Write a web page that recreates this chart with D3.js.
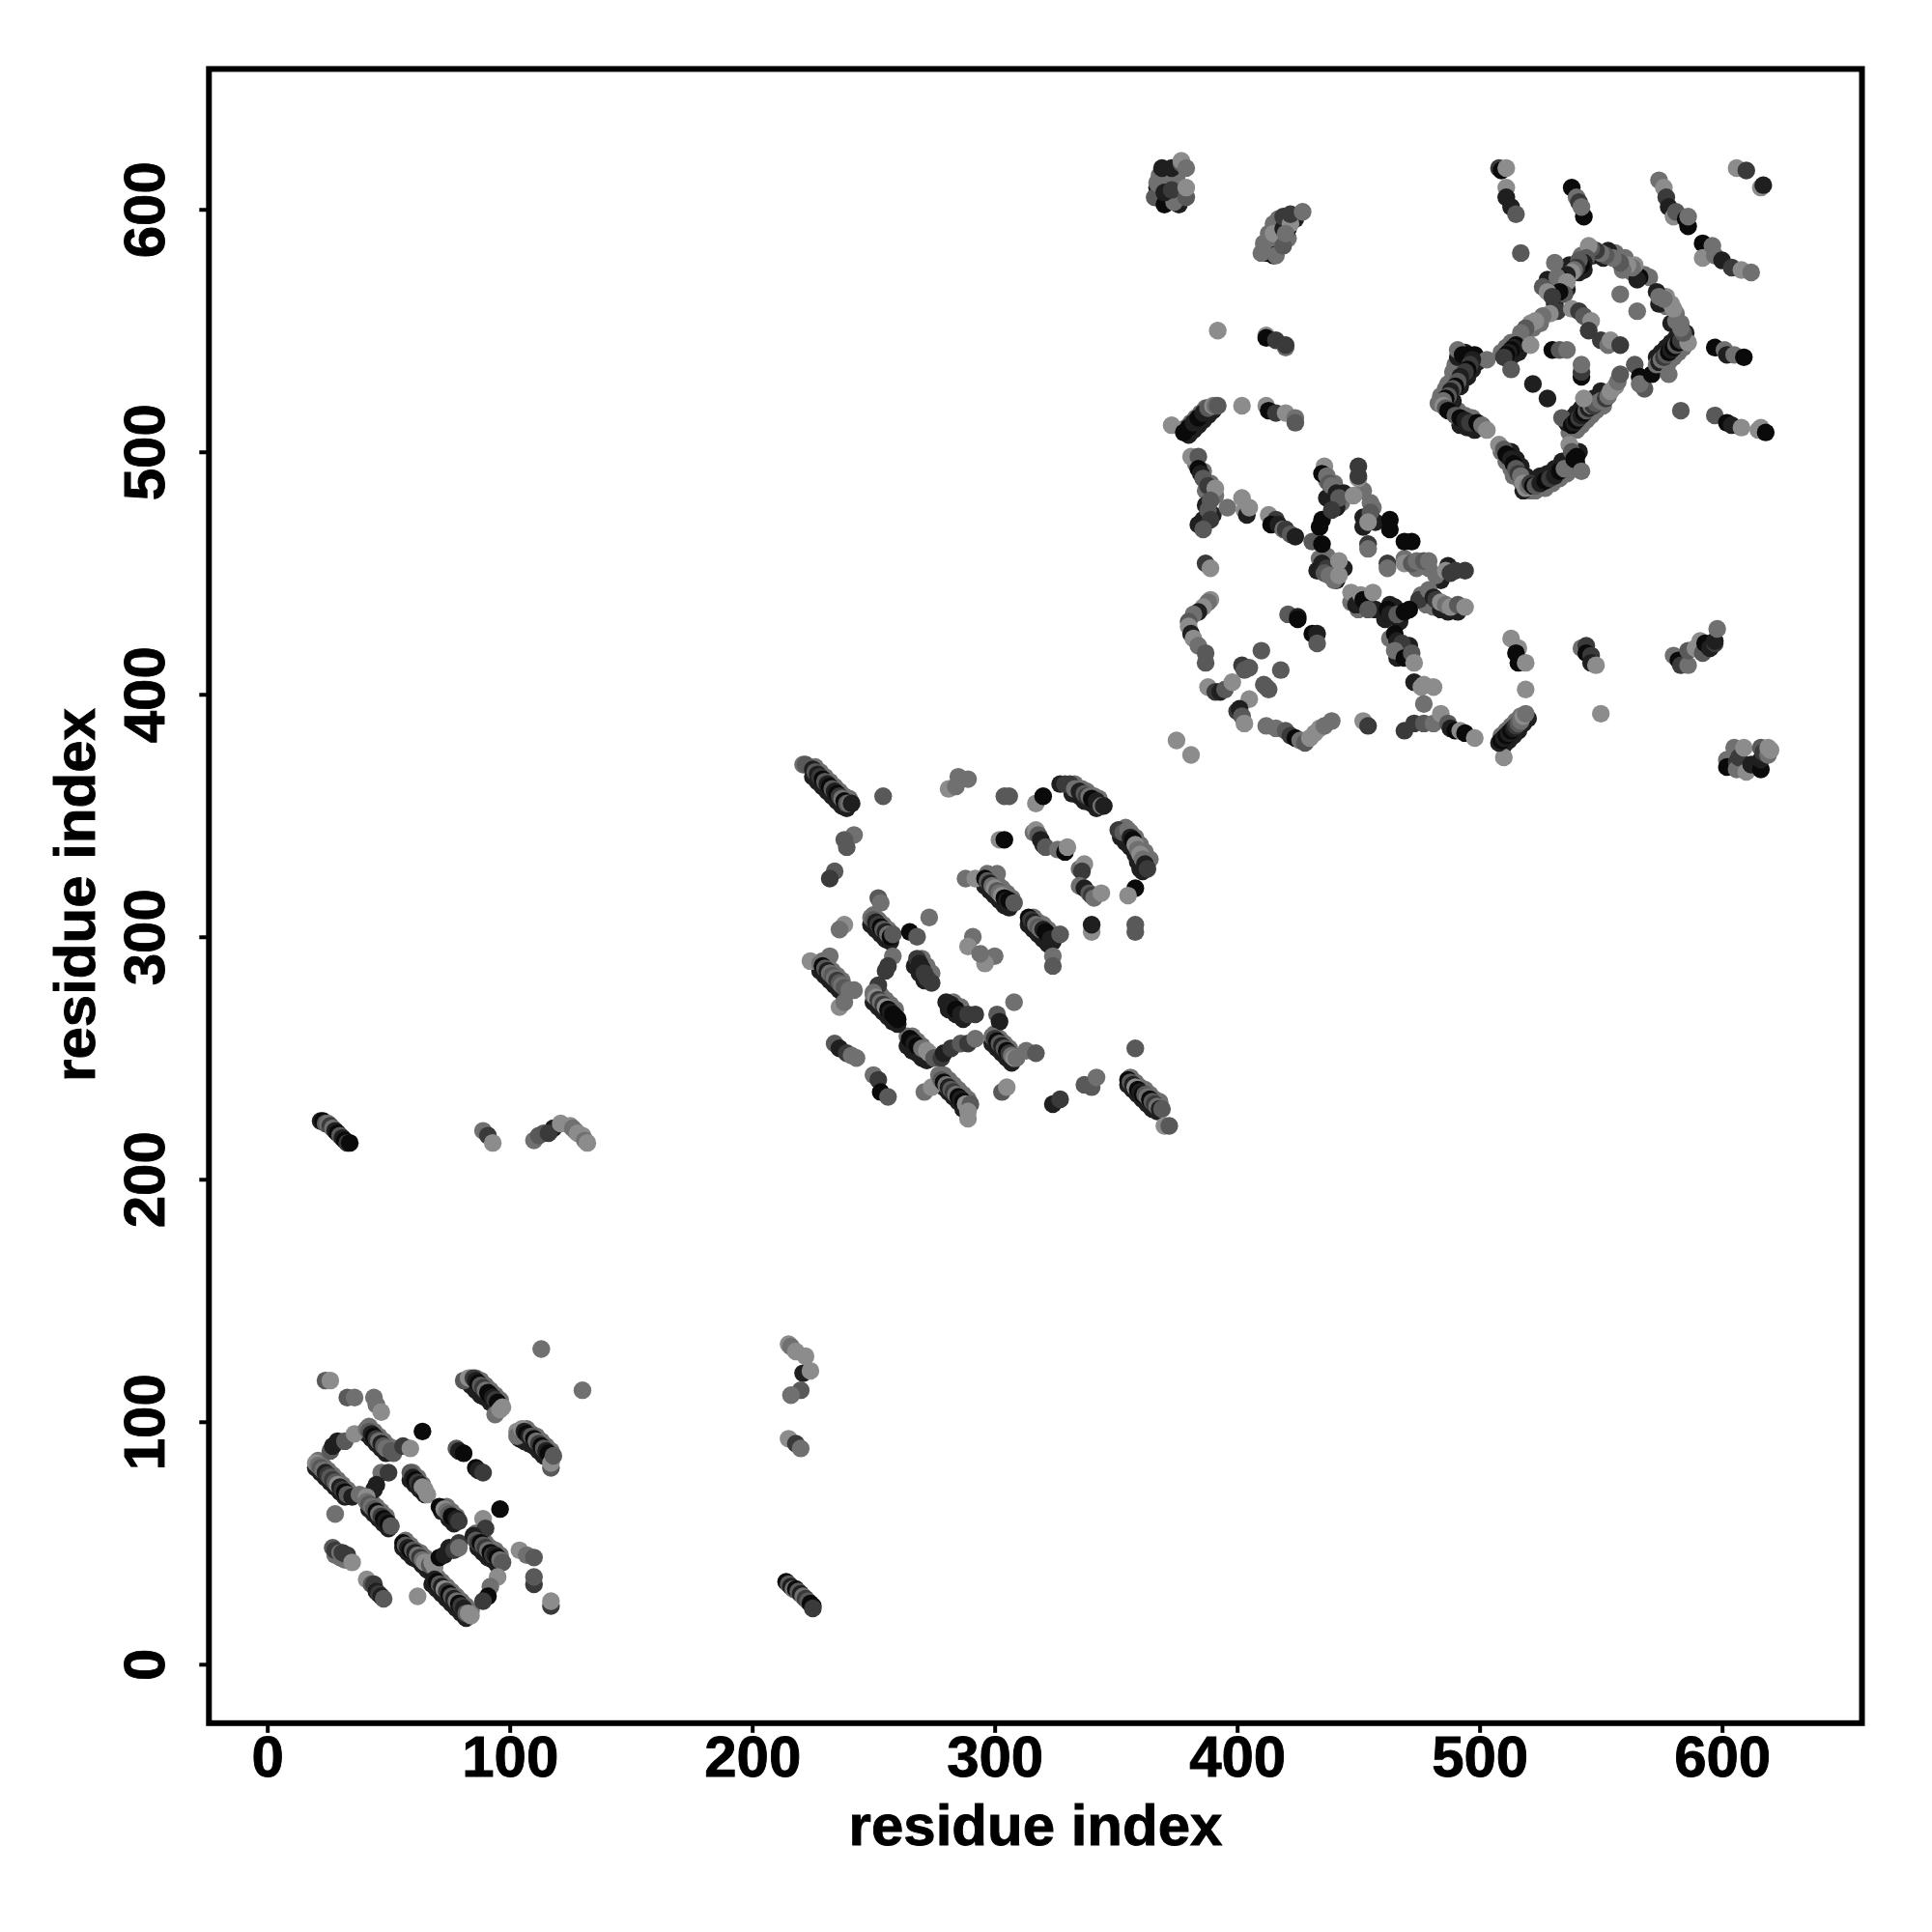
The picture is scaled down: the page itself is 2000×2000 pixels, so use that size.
<!DOCTYPE html>
<html><head><meta charset="utf-8"><title>Residue contact map</title>
<script src="https://cdn.jsdelivr.net/npm/d3@7"></script>
<style>html,body{margin:0;padding:0;background:#fff}svg{display:block}</style></head>
<body><svg id="c" width="2000" height="2000"></svg>
<script>
const xTicks=[0,100,200,300,400,500,600];
const yTicks=[0,100,200,300,400,500,600];
const xTitle="residue index", yTitle="residue index";
const shades=["#0a0a0a","#1f1f1f","#3a3a3a","#595959","#707070","#8c8c8c"];
// neighbouring contacts on the flanks of the strands: residue i, residue j
const flankMid=[
[21,84],[23,82],[25,80],[27,78],[29,76],[31,74],[33,72],[35,70],[42,98],[44,96],[46,94],[48,92],[50,90],[52,89],[41,69],[43,67],[45,65],[47,63],[49,61],[60,79],[62,77],[64,74],[74,65],[76,63],[78,61],[84,118],[86,118],[88,117],[90,115],[92,113],[94,111],[96,109],[105,96],[107,97],[109,95],[111,94],[113,92],[115,90],[117,88],[57,51],[59,49],[61,47],[63,46],[65,44],[86,54],[88,52],[90,50],[92,48],[94,47],[96,45],[70,36],[72,34],[74,32],[76,30],[78,28],[80,26],[82,24],[84,22],[28,45],[30,44],[32,43],
[226,370],[228,368],[230,366],[232,364],[234,362],[236,360],[238,358],[240,357],[297,326],[299,324],[301,322],[303,320],[305,318],[307,316],[316,308],[318,306],[320,305],[322,303],[324,301],[250,309],[252,307],[254,305],[256,303],[229,290],[231,288],[233,286],[235,284],[237,282],[251,278],[253,276],[255,274],[257,272],[259,270],[264,259],[266,259],[268,257],[270,255],[270,291],[272,288],[274,285],[283,273],[286,271],[300,260],[302,258],[304,256],[306,254],[279,243],[281,241],[283,239],[285,237],[287,235],[289,233],[356,242],[358,240],[360,238],[362,237],[364,235],[366,233],[368,232],[333,363],[336,361],[338,360],[341,358],[343,357],[354,345],[356,343],[358,341],[360,338],[362,335],[364,332],
[509,383],[511,385],[513,387],[515,389],[517,391],[379,510],[381,512],[383,514],[385,516],[387,518],[417,596],[420,595],[423,597],[417,588],[414,586],[421,588],[417,592],[413,590],[383,495],[386,492],[389,487],[387,484],[391,482],[437,488],[440,487],[443,479],[452,484],[456,477],[434,456],[437,457],[469,456],[474,452],[479,452],[476,441],[478,437],[481,436],[447,438],[450,435],[453,438],[463,423],[466,418],[368,614],[375,613],[371,611],[376,606],
[489,533],[490,536],[493,537],[487,528],[486,526],[484,523],[483,520],[491,517],[494,515],[497,514],[509,500],[511,496],[513,493],[514,490],[517,488],[521,484],[523,484],[527,485],[530,487],[533,489],[536,491],[537,508],[540,509],[542,511],[544,513],[546,515],[548,517],[551,519],[574,535],[576,536],[578,537],[580,539],[582,541],[584,543],[509,541],[511,543],[513,545],[519,546],[519,549],[522,551],[525,553],[542,581],[545,582],[539,577],[568,573],[563,574],[570,572],[560,580],[556,582],[577,560],[581,557],[583,553]
];
const flankDark=[
[20,81],[22,79],[24,77],[26,75],[28,73],[30,71],[32,69],[41,95],[43,93],[45,91],[47,89],[49,87],[42,64],[44,62],[46,60],[48,58],[50,56],[59,76],[61,74],[63,72],[65,70],[72,63],[75,60],[77,58],[84,115],[86,113],[88,111],[90,110],[92,108],[104,93],[106,92],[108,91],[110,90],[112,88],[114,86],[116,85],[56,48],[58,46],[60,44],[62,43],[64,41],[66,39],[87,48],[89,46],[91,44],[93,43],[95,41],[68,33],[70,31],[72,29],[74,27],[76,25],[78,23],[80,21],[82,19],
[225,366],[227,364],[229,362],[231,360],[233,358],[235,356],[237,354],[239,353],[296,321],[298,319],[300,317],[302,315],[304,313],[306,312],[314,305],[316,303],[318,301],[320,299],[322,297],[249,305],[251,303],[253,301],[255,299],[257,298],[228,286],[230,284],[232,282],[234,280],[236,278],[238,276],[250,273],[252,271],[254,269],[256,267],[258,265],[260,264],[264,255],[266,253],[268,252],[270,250],[272,249],[267,288],[269,285],[271,282],[281,270],[284,268],[287,266],[299,256],[301,254],[303,252],[305,250],[307,248],[277,240],[279,238],[281,236],[283,234],[285,232],[287,229],[355,239],[357,237],[359,235],[361,233],[363,231],[365,229],[367,228],[332,359],[335,358],[337,356],[340,355],[342,353],[352,341],[354,339],[356,337],[358,334],[359,331],[360,328],
[510,379],[512,381],[514,383],[516,385],[518,388],[520,390],[380,507],[382,509],[384,511],[386,513],[388,515],[390,517],[387,478],[390,474],[386,472],[384,470],[441,477],[444,483],[437,481],[452,473],[457,471],[452,469],[440,451],[433,451],[441,447],[444,452],[484,447],[487,453],[484,435],[487,434],[491,434],[457,435],[461,431],[463,437],[467,430],[465,436],[470,418],[471,420],[466,415],[367,609],[372,605],[376,602],[369,604],
[493,530],[492,527],[497,534],[495,531],[499,537],[489,521],[488,524],[491,539],[494,541],[492,511],[495,510],[498,509],[513,500],[515,497],[517,494],[519,490],[518,484],[522,488],[525,490],[528,491],[531,493],[534,496],[537,497],[540,495],[541,500],[536,512],[538,514],[540,516],[542,518],[545,520],[547,522],[550,525],[573,539],[575,541],[577,543],[579,545],[581,547],[512,538],[514,540],[516,541],[517,543],[537,577],[536,575],[541,574],[543,575],[534,575],[533,568],[536,567],[530,569],[528,571],[531,561],[553,583],[551,580],[547,581],[579,553],[585,549],[574,561]
];
// each contact: residue i, residue j, shade index
const domainA=[
[113,130,4],[130,113,4],[24,117,3],[26,117,5],[33,110,3],[36,110,4],[44,110,4],[45,107,4],[47,104,5],
[20,83,5],[21,82,4],[22,81,3],[23,80,4],[24,79,1],[25,78,2],[26,77,3],[27,76,2],[28,75,3],[29,74,5],[30,73,1],[31,72,2],[32,71,0],[33,70,3],[35,69,1],
[26,88,3],[27,90,1],[29,92,1],[32,92,3],[36,95,5],
[41,97,4],[42,96,3],[43,95,1],[44,94,0],[45,93,2],[46,92,4],[47,91,1],[48,90,3],[49,89,4],[51,88,3],[52,87,3],[56,90,2],[59,89,5],
[47,79,4],[50,79,2],[45,74,1],[44,72,1],[38,70,4],[41,69,5],
[41,67,4],[42,66,3],[43,65,4],[44,64,3],[45,63,0],[46,62,4],[47,61,2],[48,60,0],[49,59,1],[50,58,0],[51,57,3],
[59,79,3],[60,77,1],[61,76,0],[62,75,2],[63,74,1],[64,73,5],[65,71,0],[66,70,5],[65,72,5],
[71,65,0],[73,64,5],[74,63,4],[75,62,3],[76,61,0],[78,60,1],[79,59,2],
[28,62,4],[64,96,0],[78,89,3],[79,88,1],[81,87,0],[86,81,0],[87,80,1],[89,79,2],[96,64,0],
[81,117,3],[83,118,5],[85,118,2],[86,117,1],[87,116,0],[88,115,3],[89,114,2],[90,113,4],[91,112,0],[92,111,0],[93,110,1],[94,109,2],[95,108,0],[94,103,4],[96,105,5],[97,106,5],
[103,96,5],[103,94,4],[105,97,5],[106,96,1],[107,95,0],[108,94,1],[109,94,3],[110,93,0],[111,92,4],[112,91,2],[113,90,0],[114,89,3],[115,88,1],[116,87,0],[117,81,3],[117,83,5],[118,86,3],
[56,50,0],[57,49,3],[58,48,1],[59,47,0],[60,47,3],[61,46,1],[62,45,4],[63,44,2],[64,43,4],[65,42,5],[67,41,3],[69,40,5],[68,42,5],
[71,44,0],[73,45,1],[75,48,1],[77,47,2],[79,50,2],[79,48,4],
[89,60,5],[90,56,2],[85,53,1],[86,51,3],[87,50,2],[88,50,0],[89,49,3],[90,48,2],[91,47,4],[92,46,0],[93,45,2],[94,45,1],[95,44,0],[96,43,4],[97,42,3],
[104,47,5],[107,45,4],[110,44,3],[110,33,2],[110,36,3],[117,24,2],[117,26,5],
[95,36,5],[92,32,4],[91,28,0],[89,26,2],
[69,35,1],[70,34,0],[71,33,3],[72,32,1],[73,31,5],[74,30,2],[75,29,0],[76,28,3],[77,27,1],[78,26,4],[79,25,0],[80,24,2],[81,23,1],[82,21,3],[83,21,5],[84,20,5],
[62,28,5],
[27,48,3],[28,47,2],[30,46,4],[31,46,2],[33,45,2],[35,42,5],[41,35,5],[43,33,3],[44,33,2],[45,30,1],[46,29,2],[47,28,1],[48,27,3]
];
const bridgeA=[
[221,120,1],[215,132,5],[216,131,4],[218,129,5],[222,127,5],[224,121,5],[220,113,3],[216,111,4],
[215,93,5],[218,91,2],[220,89,4],
[214,34,0],[215,33,3],[216,32,1],[217,31,4],[218,31,0],[219,30,3],[220,29,1],[221,28,4],[222,27,2],[223,26,3],[224,25,0],[225,24,0],[225,23,2],
[22,224,1],[23,224,0],[24,223,3],[25,223,4],[26,222,2],[27,221,4],[28,220,1],[29,219,0],[30,218,3],[31,217,1],[32,216,0],[33,215,2],[34,215,0],
[89,220,4],[91,218,2],[93,215,5],
[110,216,4],[118,221,1],[112,218,3],[114,219,3],[116,219,2],[121,223,5],[125,222,5],[126,221,4],[127,220,4],[128,219,5],[130,218,5],[131,216,4],[132,215,5]
];
const domainB=[
[221,371,4],[222,371,3],[225,369,1],[226,368,3],[227,367,1],[228,366,2],[229,365,0],[230,364,3],[231,363,1],[232,362,0],[233,361,3],[234,360,1],[235,359,0],[236,358,2],[237,357,4],[238,356,0],[239,355,3],[240,355,4],[241,355,1],
[254,358,3],[242,342,4],[238,340,3],[239,337,3],[234,327,3],[232,324,2],
[285,366,4],[289,365,4],[281,361,5],[284,362,4],
[304,358,3],[306,358,3],[317,355,5],[320,358,0],
[327,363,1],[329,363,2],[331,363,2],[333,361,4],[335,360,1],[337,359,3],[338,358,2],[339,358,4],[340,357,0],[342,356,1],[344,354,4],[345,354,1],
[351,344,2],[353,343,3],[355,344,4],[356,341,1],[357,340,0],[358,338,5],[359,336,4],[360,334,5],[361,332,4],[361,327,1],[362,330,1],[363,328,2],
[358,320,0],[355,317,5],
[302,340,5],[304,340,0],
[316,343,4],[317,344,5],[318,342,3],[319,340,1],[320,338,1],[321,337,3],[326,336,4],[329,335,0],[330,337,5],
[335,328,4],[337,330,5],[336,327,2],[335,321,4],[337,320,1],[339,318,3],[340,317,2],[341,316,4],[344,318,5],
[340,302,5],[340,305,1],[358,302,3],[358,305,3],
[288,324,4],[292,324,5],[301,326,4],[296,324,0],[297,323,3],[298,322,1],[299,321,4],[300,320,5],[301,319,3],[302,318,4],[303,317,5],[304,316,0],[305,315,1],[306,315,0],[308,314,3],
[314,308,0],[315,307,2],[316,306,1],[317,305,4],[318,304,3],[319,303,4],[320,303,1],[321,302,0],[322,301,0],[323,299,1],[324,298,1],[327,301,3],[324,292,4],[324,288,3],
[252,316,3],[253,314,4],
[249,308,4],[250,307,3],[251,306,1],[252,305,2],[253,304,0],[254,303,3],[255,302,1],[256,301,4],[257,300,0],[258,301,3],[265,302,0],[268,300,3],
[273,308,4],[238,305,5],[236,303,4],
[291,300,4],[289,296,5],[300,292,4],[296,289,5],[294,293,4],
[224,290,5],[232,292,4],[228,289,4],[229,288,0],[230,287,3],[231,286,1],[232,285,4],[233,284,3],[234,283,4],[235,282,2],[236,281,3],[237,280,4],[238,279,3],[240,278,4],[242,278,4],[236,271,5],[238,273,4],
[258,292,4],[255,286,2],[256,288,2],[252,280,2],[250,277,4],
[250,276,4],[251,275,5],[252,274,2],[253,273,4],[254,272,2],[255,271,5],[256,270,0],[257,269,1],[258,268,0],[259,267,0],[260,266,0],
[265,258,0],[266,257,0],[267,256,1],[268,255,0],[270,254,4],[272,253,5],[273,252,5],[275,250,3],[278,250,2],[279,252,1],[282,254,2],[286,256,3],[289,256,2],[292,258,4],
[268,291,2],[269,289,1],[270,287,1],[271,285,2],[272,283,2],[274,281,2],
[280,273,1],[282,272,1],[284,270,0],[286,268,1],[289,268,2],[292,268,2],
[308,273,4],[301,268,3],[302,265,1],
[299,259,4],[300,258,2],[301,257,0],[302,256,3],[303,255,1],[304,254,3],[305,253,0],[306,252,2],[307,251,4],[308,250,5],[309,250,4],[313,253,4],[317,252,3],
[358,254,3],[234,256,3],[236,254,1],[239,252,2],[241,251,4],[243,250,4],
[250,243,4],[252,241,2],[253,236,0],[256,234,3],
[271,236,4],[274,238,5],[277,243,4],[278,241,3],[279,240,0],[280,239,4],[281,238,1],[282,237,3],[283,236,2],[284,235,4],[285,234,0],[286,233,1],[287,232,0],[288,231,5],[290,231,3],[289,228,5],[289,225,5],
[303,236,3],[305,238,5],
[324,231,1],[327,233,2],[337,239,3],[340,238,3],[342,242,4],
[355,241,0],[356,240,3],[357,239,1],[358,238,5],[359,237,0],[360,236,1],[361,235,0],[362,235,3],[363,234,4],[364,233,0],[365,232,3],[366,231,2],[367,230,4],[368,229,1],[369,229,3],[370,222,5],[372,222,3]
];
const domainC=[
[381,498,5],[384,498,3],[384,493,0],[385,491,1],[386,489,3],[388,486,2],[391,485,5],[389,480,3],[388,476,3],[389,472,2],[386,468,3],
[396,477,4],[402,481,5],[403,476,5],[404,474,1],[405,477,5],
[413,474,5],[416,472,2],[414,470,0],[417,470,1],[419,468,4],[420,468,2],[422,466,3],[424,465,1],[431,463,3],[435,462,0],[434,469,0],[435,472,0],
[436,494,5],[435,491,0],[437,490,4],[438,487,3],[439,486,4],[441,483,1],[442,481,3],[439,476,2],
[450,494,2],[450,489,5],[450,490,2],[448,482,5],[455,479,4],[455,475,3],[454,471,5],[454,462,2],[454,460,4],
[463,472,0],[463,468,0],[469,463,0],[472,463,0],
[462,454,2],[462,452,4],[469,454,5],[472,454,3],[474,455,4],[477,455,3],[479,455,4],[482,449,4],[486,451,5],[488,450,2],[490,451,2],[494,451,2],
[475,439,2],[479,443,4],[481,440,1],[482,439,2],[484,438,5],[486,437,4],[488,436,5],[491,437,3],[494,436,5],
[435,454,1],[437,452,2],[442,455,5],[436,450,3],[438,449,4],[440,447,4],[442,449,5],
[447,442,5],[449,437,1],[451,441,5],[452,439,0],[454,435,3],[456,442,5],
[462,435,0],[463,433,1],[466,433,3],[469,434,0],[471,435,0],
[465,425,0],[466,422,1],[468,421,2],[465,418,4],[469,415,0],[472,417,3],[473,413,5],
[473,405,1],[476,403,5],[477,404,5],[481,403,5],[477,396,4],
[469,385,2],[473,388,2],[477,388,3],[481,388,4],[484,392,5],[487,388,3],[488,386,1],[490,385,0],[492,385,5],[494,384,0],[498,382,5],
[513,423,5],[516,419,5],[515,417,0],[516,413,0],[519,413,5],[519,402,5],
[510,374,5],[508,380,1],[509,381,0],[510,382,1],[511,383,0],[512,384,1],[513,385,0],[514,386,1],[515,387,2],[516,388,3],[517,389,4],[518,391,5],[519,392,4],
[452,389,5],[454,387,2],
[375,381,5],[381,375,5],[387,454,2],[389,452,5],
[389,439,5],[388,438,4],[386,436,5],[384,434,1],[382,433,4],[380,430,3],[380,428,5],[381,425,1],[382,423,5],[384,420,4],[387,417,3],[387,413,3],
[421,433,3],[425,432,1],[425,431,0],[431,425,0],[433,425,1],[433,421,3],
[410,418,3],[418,410,3],[402,412,2],[403,410,3],[405,411,3],[411,404,3],[412,403,3],[413,402,3],
[388,403,5],[391,401,2],[393,401,1],[395,402,3],[398,405,5],
[400,393,2],[405,398,5],[401,394,1],[402,391,3],[403,388,5],
[412,387,4],[416,386,4],[420,385,3],[422,383,2],[424,382,0],[426,381,4],[428,380,3],[430,382,5],[432,384,5],[434,386,5],[436,387,4],[439,389,4],
[366,605,3],[367,611,4],[369,617,1],[373,617,1],[377,619,3],[377,620,5],[379,617,4],[370,602,0],[374,603,4],[370,607,1],[373,608,2],[379,605,3],[379,609,5],
[412,582,0],[415,581,0],[421,592,0],[424,596,1],[411,586,4],[410,582,4],[416,581,4],[415,594,4],[415,590,5],[419,585,3],[419,592,1],[419,597,2],[422,594,5],[420,590,4],[422,598,2],[427,599,4],
[392,550,5],[412,548,5],[412,547,0],[416,546,2],[420,543,4],[420,544,2],
[373,511,5],[378,508,0],[380,510,0],[382,512,1],[384,514,0],[386,516,1],[388,518,3],[390,519,5],[391,519,4],[392,519,3],
[402,519,5],[412,519,5],[413,517,0],[416,516,2],[420,516,5],[424,514,4],[424,512,3]
];
const domainD=[
[508,617,2],[509,616,0],[511,617,5],[511,609,5],[511,605,1],[513,601,1],[515,598,3],
[538,609,0],[540,605,4],[541,603,2],[543,597,0],[542,601,4],[517,582,3],
[574,612,4],[576,609,5],[577,605,2],[578,601,1],[580,597,5],[581,599,3],[585,596,0],[586,593,0],[586,597,4],
[592,586,0],[592,580,5],[596,585,4],[597,581,4],[600,579,1],[604,576,2],[608,575,5],[612,574,4],
[606,617,5],[610,616,2],[616,609,5],[617,610,1],
[597,543,0],[601,542,4],[602,540,1],[605,540,4],[609,539,0],
[597,515,3],[602,512,0],[604,511,1],[608,510,5],[615,509,5],[616,510,5],[618,508,0],
[583,517,3],
[491,542,4],[493,540,0],[495,540,0],[498,540,0],[503,538,4],[497,538,1],[496,536,2],[495,534,0],[494,533,2],[492,531,1],[491,529,3],[490,527,0],[489,526,3],[488,525,1],[487,523,3],[486,522,0],[485,521,4],[485,519,5],[486,518,3],[487,517,0],
[490,515,3],[492,514,0],[494,513,1],[496,512,2],[499,512,0],[501,511,4],[503,509,5],
[508,503,5],[510,501,3],[511,499,0],[512,498,0],[513,497,1],[514,495,0],[515,493,3],[516,491,2],[517,490,4],[518,487,5],[519,485,5],[520,486,4],[521,487,2],[522,486,0],[523,486,3],[525,487,1],[527,488,0],[529,489,2],[531,490,1],[533,492,0],[535,493,4],[537,503,5],[538,500,3],[539,497,0],[540,498,0],[542,492,4],
[534,514,3],[538,511,0],[539,512,1],[540,513,0],[541,514,2],[542,515,1],[543,516,0],[544,517,3],[545,518,1],[546,519,4],[547,519,2],[548,520,3],[550,521,4],[552,522,2],[543,522,5],[553,523,4],[554,525,5],[556,527,5],[557,529,4],[558,532,3],
[564,536,3],[566,531,0],[568,526,3],[566,528,4],[571,532,0],[573,536,4],[574,537,1],[575,538,4],[576,539,2],[577,540,3],[578,532,4],[578,541,0],[579,542,1],[580,543,0],[581,544,3],[582,545,0],[583,546,2],[586,545,5],
[584,549,3],[583,551,4],[581,554,4],[580,559,5],[579,561,5],[577,564,5],[576,563,4],[573,566,1],[574,564,4],
[566,572,0],[565,571,1],[564,577,5],[563,576,4],[561,577,5],[559,575,4],[558,578,3],[555,580,4],[552,581,3],[550,582,4],[548,583,2],[546,584,3],[545,585,5],
[544,580,3],[543,578,1],[542,577,0],[541,579,3],[540,576,2],[539,575,4],[538,574,5],[536,573,1],[534,571,0],[532,572,4],[531,578,4],[536,570,5],[535,565,3],[533,566,0],[526,568,3],[528,566,5],[530,564,2],
[532,558,2],[529,557,5],[526,556,4],[523,554,5],[521,553,5],[519,551,3],[517,549,4],[515,544,0],[514,543,1],[513,542,0],[512,541,1],[511,540,0],[510,539,2],[521,544,5],[513,534,3],
[558,565,4],[565,558,4],[538,559,5],[541,558,2],[543,556,3],[546,554,5],[545,550,2],
[550,546,2],[553,544,4],[554,546,5],[558,544,2],
[530,542,0],[533,542,3],[536,542,4],[542,531,0],[542,533,2],[542,536,4],
[522,528,1],[528,522,1]
];
const domainE=[
[542,419,4],[544,420,2],[544,417,0],[546,416,2],[546,413,1],[548,412,5],
[550,392,5],
[580,416,4],[582,414,0],[583,412,2],[586,412,4],[586,418,3],[589,419,5],[591,422,5],[592,417,3],[593,421,0],[595,419,1],[597,421,2],[597,422,1],[598,427,4],
[605,378,4],[602,373,4],[602,370,0],[606,372,2],[606,369,4],[607,374,2],[609,378,5],[610,368,5],[612,371,1],[616,369,0],[616,373,1],[616,378,3],[617,376,2],[619,375,4],[619,378,5],[620,377,5]
];
const allContacts=[
  ...flankMid.map(d=>[d[0],d[1],4]),
  ...flankDark.map(d=>[d[0],d[1],1]),
  ...domainA,...bridgeA,...domainB,...domainC,...domainD,...domainE];

const svg=d3.select("#c");
const font="'Liberation Sans',Arial,sans-serif";
const x=d3.scaleLinear().domain([-24.06,657.7]).range([216.3,1927.5]);
const y=d3.scaleLinear().domain([-24.3,657.9]).range([1783.8,71.4]);

svg.append("g").selectAll("circle").data(allContacts).join("circle")
  .attr("cx",d=>x(d[0])).attr("cy",d=>y(d[1])).attr("r",9.2)
  .attr("fill",d=>shades[d[2]]);

svg.append("rect").attr("x",x.range()[0]).attr("y",y.range()[1])
  .attr("width",x.range()[1]-x.range()[0]).attr("height",y.range()[0]-y.range()[1])
  .attr("fill","none").attr("stroke","#000").attr("stroke-width",6);

const gx=svg.append("g").attr("transform",`translate(0,${y.range()[0]})`)
  .call(d3.axisBottom(x).tickValues(xTicks).tickSize(10).tickFormat(d3.format("d")));
const gy=svg.append("g").attr("transform",`translate(${x.range()[0]},0)`)
  .call(d3.axisLeft(y).tickValues(yTicks).tickSize(10).tickFormat(d3.format("d")));
const heavy=s=>s.attr("fill","#000").attr("stroke","#000").attr("stroke-width",0.9)
  .style("font-family",font).style("font-weight","700").style("font-size","60px");
[gx,gy].forEach(g=>{
  g.select(".domain").remove();
  g.selectAll("line").attr("stroke","#000").attr("stroke-width",4);
  heavy(g.selectAll("text"));
});
gx.selectAll("text").attr("y",0).attr("dy",0).attr("transform",`translate(0,${1839-y.range()[0]})`).attr("text-anchor","middle");
gy.selectAll("text").attr("x",0).attr("dy",0).attr("text-anchor","middle")
  .attr("transform",`translate(${170-x.range()[0]},0) rotate(-90)`);

heavy(svg.append("text").text(xTitle).attr("x",1072).attr("y",1910).attr("text-anchor","middle"));
heavy(svg.append("text").text(yTitle).attr("text-anchor","middle").attr("transform","translate(98,926.5) rotate(-90)"));
</script></body></html>
